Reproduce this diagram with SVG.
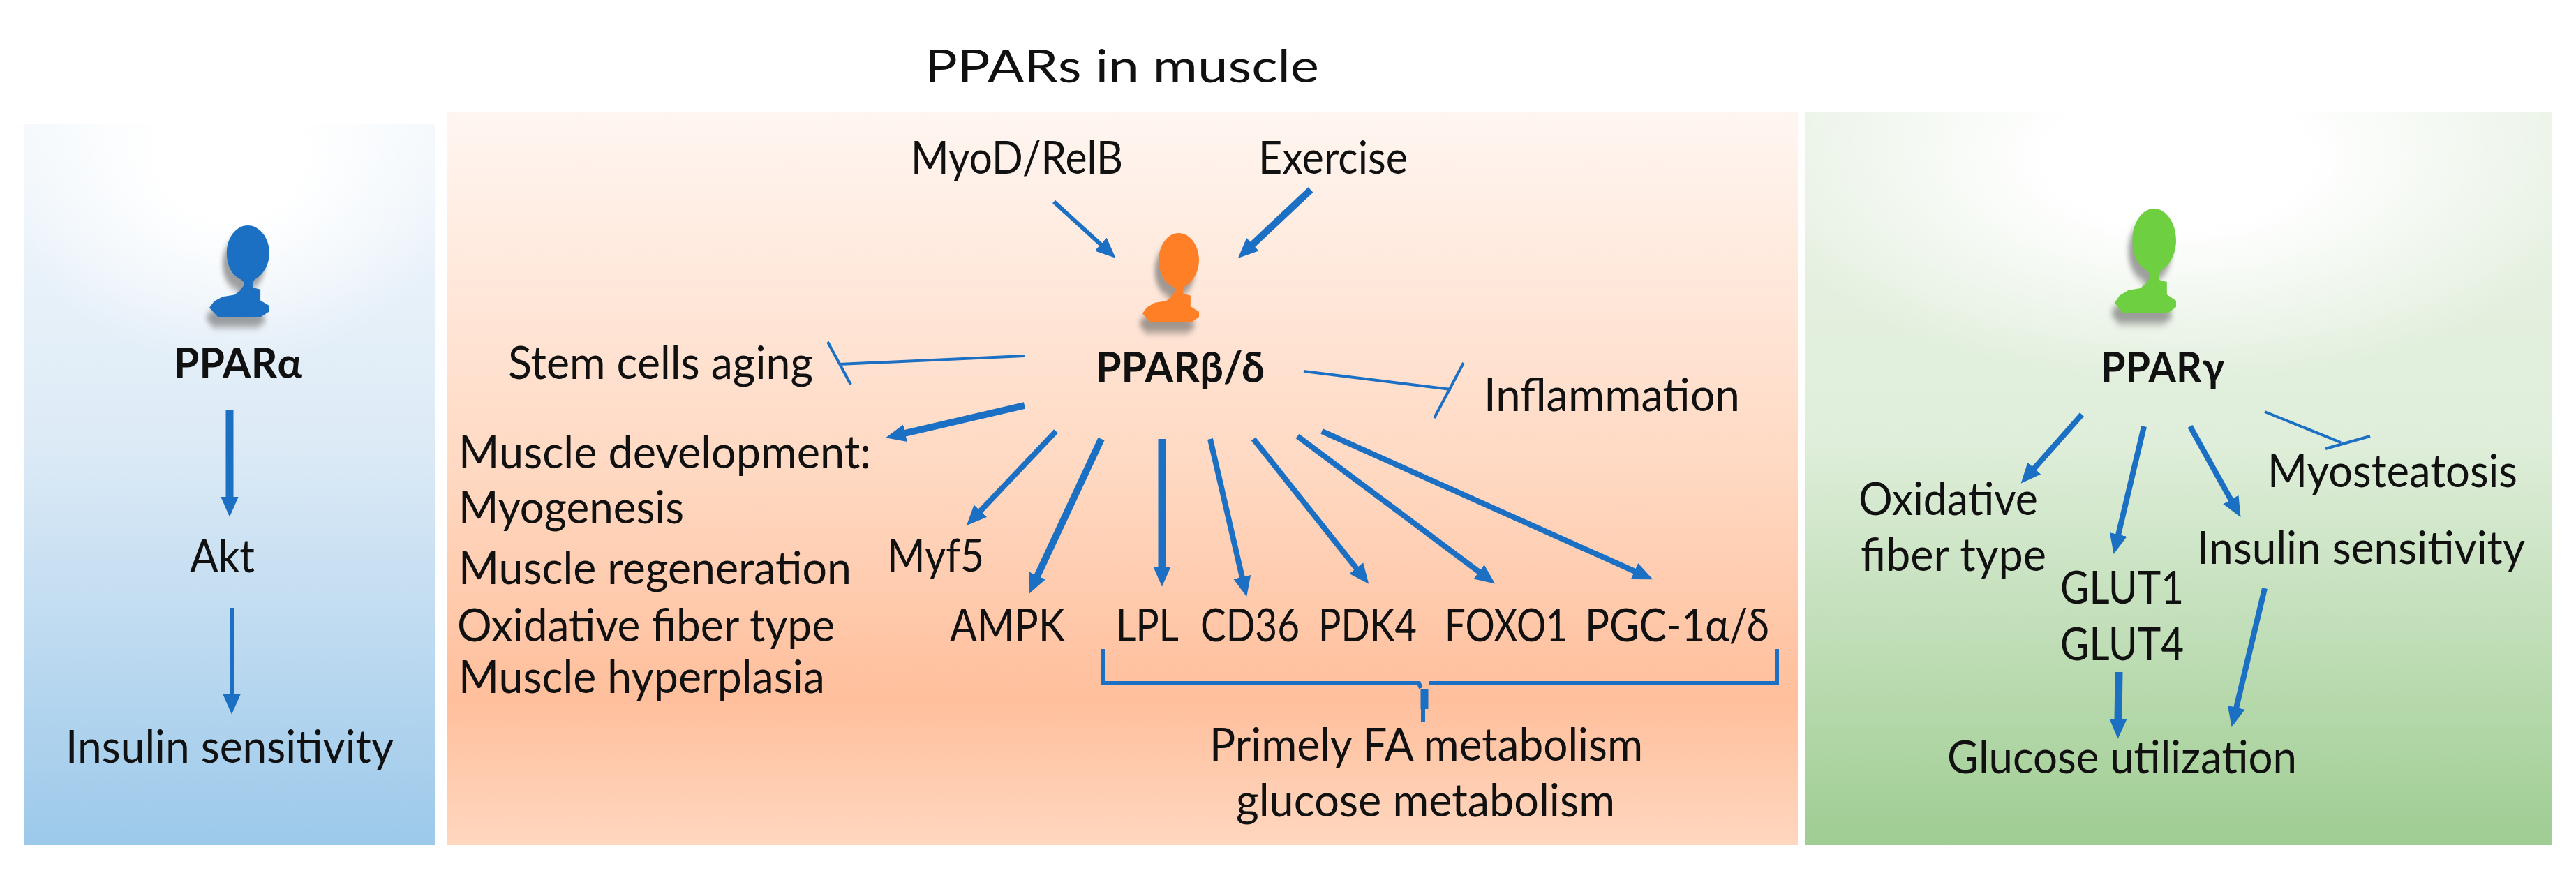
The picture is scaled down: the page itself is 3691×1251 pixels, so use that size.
<svg xmlns="http://www.w3.org/2000/svg" width="3691" height="1251" viewBox="0 0 3691 1251">
<style>
text{font-family:Lato,"Open Sans","DejaVu Sans",sans-serif;font-size:66px;fill:#111}
.b{font-weight:700;font-size:62px}
.c{fill:none;stroke:#1b70c4;stroke-linecap:butt}
.a{marker-end:url(#h)}
.w4{stroke-width:4}.w6{stroke-width:6}.w8{stroke-width:8}.w11{stroke-width:11}
</style>
<defs>
<linearGradient id="gl" x1="0" y1="0" x2="0" y2="1"><stop offset="0" stop-color="#f3f8fc"/><stop offset="0.45" stop-color="#dceaf6"/><stop offset="1" stop-color="#9cc9ea"/></linearGradient>
<linearGradient id="gm" x1="0" y1="0" x2="0" y2="1"><stop offset="0" stop-color="#fff6f1"/><stop offset="0.5" stop-color="#ffd8c1"/><stop offset="0.8" stop-color="#ffbf9c"/><stop offset="1" stop-color="#ffd7bf"/></linearGradient>
<linearGradient id="gr" x1="0" y1="0" x2="0" y2="1"><stop offset="0" stop-color="#e9f2e5"/><stop offset="0.45" stop-color="#dfeeda"/><stop offset="1" stop-color="#9fcd92"/></linearGradient>
<radialGradient id="gw" cx="50%" cy="12%" r="58%"><stop offset="0.3" stop-color="#fff"/><stop offset="1" stop-color="#fff" stop-opacity="0"/></radialGradient>
<marker id="h" markerUnits="userSpaceOnUse" markerWidth="30" markerHeight="30" refX="1" refY="13" orient="auto" viewBox="0 0 26 26"><path d="M0 2L25 13L0 24Z" fill="#1b70c4"/></marker>
<filter id="s" x="-30%" y="-30%" width="160%" height="160%"><feGaussianBlur stdDeviation="4"/></filter>
<path id="p" d="M64 0C84 0 100 14 100 30C100 44 88 55 76 59L72 62L72 68L85 70L85 82L100 88L100 94L86 100L14 100L0 90L8 83L22 78L42 76L50 72L57 66L57 62L52 59C38 55 29 44 29 30C29 14 44 0 64 0Z"/>
</defs>
<rect width="3691" height="1251" fill="#fff"/>
<text id="title" x="1325" y="118" textLength="565" lengthAdjust="spacingAndGlyphs">PPARs in muscle</text>
<g id="panel-alpha"><rect x="34" y="178" width="590" height="1033" fill="url(#gl)"/><rect x="34" y="160" width="590" height="520" fill="url(#gw)"/></g>
<g id="panel-beta"><rect x="641" y="160" width="1935" height="1051" fill="url(#gm)"/></g>
<g id="panel-gamma"><rect x="2586" y="160" width="1070" height="1051" fill="url(#gr)"/><rect x="2586" y="160" width="1070" height="560" fill="url(#gw)"/></g>
<g id="node-alpha">
<use href="#p" transform="translate(294,338) scale(.86,1.31)" fill="#555" opacity=".55" filter="url(#s)"/>
<use href="#p" transform="translate(300,323) scale(.86,1.31)" fill="#1b70c4"/>
<text class="b" x="249" y="542" textLength="184" lengthAdjust="spacingAndGlyphs">PPARα</text>
</g>
<g id="node-beta">
<use href="#p" transform="translate(1631,349) scale(.81,1.28)" fill="#555" opacity=".55" filter="url(#s)"/>
<use href="#p" transform="translate(1637,334) scale(.81,1.28)" fill="#ff7f27"/>
<text class="b" x="1570" y="548" textLength="242" lengthAdjust="spacingAndGlyphs">PPARβ/δ</text>
</g>
<g id="node-gamma">
<use href="#p" transform="translate(3024,314) scale(.88,1.5)" fill="#555" opacity=".55" filter="url(#s)"/>
<use href="#p" transform="translate(3030,299) scale(.88,1.5)" fill="#6ecf40"/>
<text class="b" x="3010" y="548" textLength="177" lengthAdjust="spacingAndGlyphs">PPARγ</text>
</g>
<g id="labels">
<text x="272" y="820" textLength="93" lengthAdjust="spacingAndGlyphs">Akt</text>
<text x="94" y="1093" textLength="470" lengthAdjust="spacingAndGlyphs">Insulin sensitivity</text>
<text x="728" y="543" textLength="437" lengthAdjust="spacingAndGlyphs">Stem cells aging</text>
<text x="657" y="671" textLength="591" lengthAdjust="spacingAndGlyphs">Muscle development:</text>
<text x="657" y="750" textLength="323" lengthAdjust="spacingAndGlyphs">Myogenesis</text>
<text x="657" y="837" textLength="563" lengthAdjust="spacingAndGlyphs">Muscle regeneration</text>
<text x="655" y="919" textLength="541" lengthAdjust="spacingAndGlyphs">Oxidative fiber type</text>
<text x="657" y="993" textLength="525" lengthAdjust="spacingAndGlyphs">Muscle hyperplasia</text>
<text x="1305" y="249" textLength="304" lengthAdjust="spacingAndGlyphs">MyoD/RelB</text>
<text x="1803" y="249" textLength="214" lengthAdjust="spacingAndGlyphs">Exercise</text>
<text x="2126" y="589" textLength="367" lengthAdjust="spacingAndGlyphs">Inflammation</text>
<text x="1271" y="819" textLength="139" lengthAdjust="spacingAndGlyphs">Myf5</text>
<text x="1361" y="919" textLength="165" lengthAdjust="spacingAndGlyphs">AMPK</text>
<text x="1599" y="919" textLength="90" lengthAdjust="spacingAndGlyphs">LPL</text>
<text x="1720" y="919" textLength="142" lengthAdjust="spacingAndGlyphs">CD36</text>
<text x="1889" y="919" textLength="141" lengthAdjust="spacingAndGlyphs">PDK4</text>
<text x="2070" y="919" textLength="176" lengthAdjust="spacingAndGlyphs">FOXO1</text>
<text x="2271" y="919" textLength="264" lengthAdjust="spacingAndGlyphs">PGC-1α/δ</text>
<text x="1733" y="1090" textLength="621" lengthAdjust="spacingAndGlyphs">Primely FA metabolism</text>
<text x="1771" y="1170" textLength="543" lengthAdjust="spacingAndGlyphs">glucose metabolism</text>
<text x="2663" y="738" textLength="257" lengthAdjust="spacingAndGlyphs">Oxidative</text>
<text x="2666" y="818" textLength="266" lengthAdjust="spacingAndGlyphs">fiber type</text>
<text x="2952" y="865" textLength="177" lengthAdjust="spacingAndGlyphs">GLUT1</text>
<text x="2952" y="946" textLength="177" lengthAdjust="spacingAndGlyphs">GLUT4</text>
<text x="3249" y="698" textLength="358" lengthAdjust="spacingAndGlyphs">Myosteatosis</text>
<text x="3148" y="808" textLength="470" lengthAdjust="spacingAndGlyphs">Insulin sensitivity</text>
<text x="2790" y="1108" textLength="501" lengthAdjust="spacingAndGlyphs">Glucose utilization</text>
</g>
<g id="connectors">
<path class="c a w11" d="M329 588L329 713"/>
<path class="c a w6" d="M332 871L332 996"/>
<path class="c a w6" d="M1510 289L1578 351"/>
<path class="c a w8" d="M1878 272L1794 351" style="stroke-width:10"/>
<path class="c w4" d="M1468 510L1202 522M1186 490L1219 551"/>
<path class="c w4" d="M1868 532L2079 558M2097 520L2055 599"/>
<path class="c a w8" d="M1468 581L1296 621" style="stroke-width:10"/>
<path class="c a w8" d="M1513 618L1404 733"/>
<path class="c a w8" d="M1578 629L1486 826" style="stroke-width:10"/>
<path class="c a w11" d="M1665 629L1665 813"/>
<path class="c a w8" d="M1734 629L1780 828"/>
<path class="c a w8" d="M1796 629L1944 815"/>
<path class="c a w8" d="M1859 625L2120 820"/>
<path class="c a w8" d="M1894 618L2343 819"/>
<path class="c w6" d="M1581 930L1581 979L2033 979L2036 986M2047 979L2546 979L2546 930"/>
<path class="c" style="stroke-width:11" d="M2041 987L2041 1016"/>
<path class="c w6" d="M2039 1016L2039 1034"/>
<path class="c a w8" d="M2983 594L2914 672"/>
<path class="c a w8" d="M3072 611L3035 767"/>
<path class="c a w8" d="M3138 611L3197 717"/>
<path class="c w4" d="M3245 590L3354 634M3332 643L3396 625"/>
<path class="c a w8" d="M3245 843L3204 1015"/>
<path class="c a w11" d="M3036 963L3035 1031"/>
</g>
</svg>
